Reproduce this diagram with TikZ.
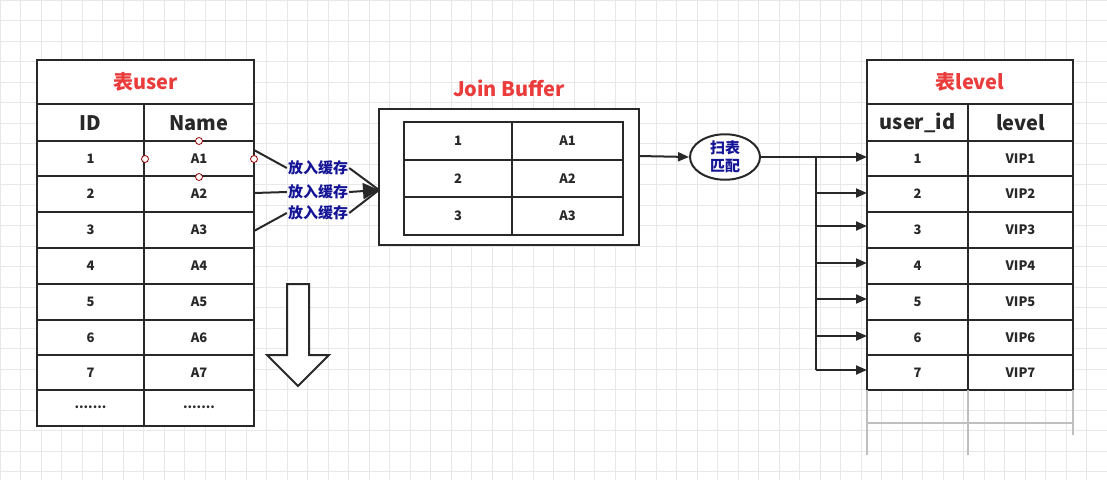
\documentclass[tikz,border=0pt]{standalone}
\usepackage{fontspec}
\setmainfont{Noto Sans CJK SC}
\usetikzlibrary{shapes.geometric,arrows.meta}
\definecolor{ttl}{RGB}{235,60,60}
\definecolor{blu}{RGB}{20,20,150}
\definecolor{ln}{RGB}{40,40,40}
\tikzset{
  cell/.style={font=\fontsize{13}{15}\selectfont\bfseries, text=ln},
  hdr/.style={font=\fontsize{20}{24}\selectfont\bfseries, text=ln},
  ttlt/.style={font=\fontsize{20}{24}\selectfont\bfseries, text=ttl},
  bl/.style={font=\fontsize{15}{17}\selectfont\bfseries, text=blu, inner sep=1pt},
  tb/.style={draw=ln, line width=2pt},
  arr/.style={draw=ln, line width=2pt, -{Triangle[length=11pt,width=9pt]}},
  hnd/.style={circle, draw=red!60!black, fill=white, inner sep=0pt, minimum size=7pt, line width=0.8pt}
}
\begin{document}
\begin{tikzpicture}[x=1pt,y=-1pt]
\useasboundingbox (0,0) rectangle (1107,480);
\fill[white] (0,0) rectangle (1107,480);
\foreach \k in {0,...,54} \draw[black!9, line width=0.7pt] ({\k*20.5},0) -- ({\k*20.5},480);
\foreach \k in {0,...,23} \draw[black!9, line width=0.7pt] (0,{\k*20.5}) -- (1107,{\k*20.5});
% left table
\fill[white] (37,60) rectangle (254,426);
\draw[tb] (37,60) rectangle (254,426);
\foreach \y in {104,141,176,212,248,284,320,355,390} \draw[tb] (37,\y) -- (254,\y);
\draw[tb] (144,104) -- (144,426);
\node[ttlt] (tu) at (145.5,82) {表user};
\node[hdr] (hid) at (90.5,123) {ID};
\node[hdr] (hnm) at (199,123) {Name};
\foreach \i/\a/\b in {1/141/176,2/176/212,3/212/248,4/248/284,5/284/320,6/320/355,7/355/390}{
  \node[cell] (l\i) at (90.5,{(\a+\b)/2}) {\i};
  \node[cell] (r\i) at (199,{(\a+\b)/2}) {A\i};
}
\node[cell] (l8) at (90.5,407) {.......};
\node[cell] (r8) at (199,407) {.......};
\node[hnd] (h1) at (199,141) {};
\node[hnd] (h2) at (145,159) {};
\node[hnd] (h3) at (254,159) {};
\node[hnd] (h4) at (199,177) {};
% down arrow
\draw[ln, line width=2pt, fill=white] (287,284) -- (309,284) -- (309,355) -- (329,355) -- (298,386) -- (267,355) -- (287,355) -- cycle;
% cache labels
\node[bl] (c1) at (318,168) {放入缓存};
\node[bl] (c2) at (318,192) {放入缓存};
\node[bl] (c3) at (318,213) {放入缓存};
\coordinate (a1) at (254,150);
\coordinate (a2) at (254,193);
\coordinate (a3) at (254,231);
\draw[tb] (a1) -- (c1.west);
\draw[tb] (a2) -- (c2.west);
\draw[tb] (a3) -- (c3.west);
% join buffer
\node[ttlt] (jb) at (509,88) {Join Buffer};
\draw[tb, fill=white] (379,109) rectangle (639,245);
\coordinate (jin) at (379,190);
\draw[tb] (c1.east) -- (jin);
\draw[tb] (c3.east) -- (jin);
\draw[line width=2pt, ln, -{Triangle[length=16pt,width=16pt]}] (c2.east) -- (jin);
\draw[tb] (404,122) rectangle (623,235);
\foreach \y in {160,197} \draw[tb] (404,\y) -- (623,\y);
\draw[tb] (512,122) -- (512,235);
\foreach \i/\c in {1/141,2/178.5,3/216}{
  \node[cell] (bl\i) at (458,\c) {\i};
  \node[cell] (br\i) at (567.5,\c) {A\i};
}
% ellipse
\node[ellipse, draw=ln, line width=2pt, fill=white, minimum width=70pt, minimum height=44pt, inner sep=0pt, align=center, text=blu, font=\fontsize{15}{18}\selectfont\bfseries] (el) at (725,157) {扫表\\匹配};
\coordinate (jout) at (639,156);
\draw[arr] (jout) -- (el.west);
% right table
\fill[white] (867,60) rectangle (1073,390);
\draw[tb] (867,390) -- (867,60) -- (1073,60) -- (1073,390);
\foreach \y in {104,141,176,212,248,284,320,355,390} \draw[tb] (867,\y) -- (1073,\y);
\draw[tb] (968,104) -- (968,390);
\draw[black!25, line width=1.5pt] (867,390) -- (867,455) (968,390) -- (968,455) (1073,390) -- (1073,435) (867,423) -- (1073,423);
\node[ttlt] (tl) at (970,82) {表level};
\node[hdr] (huid) at (917.5,123) {user\_id};
\node[hdr] (hlv) at (1020.5,123) {level};
\foreach \i/\a/\b in {1/141/176,2/176/212,3/212/248,4/248/284,5/284/320,6/320/355,7/355/390}{
  \node[cell] (ul\i) at (917.5,{(\a+\b)/2}) {\i};
  \node[cell] (vl\i) at (1020.5,{(\a+\b)/2}) {VIP\i};
}
\coordinate (tr) at (816,157);
\coordinate (t1) at (867,157);
\draw[arr] (el.east) -- (t1);
\draw[tb] (tr) -- (816,370);
\foreach \i/\y in {2/193,3/226,4/263,5/299,6/336,7/370}
  \draw[arr] (816,\y) -- (867,\y);
\end{tikzpicture}
\end{document}
